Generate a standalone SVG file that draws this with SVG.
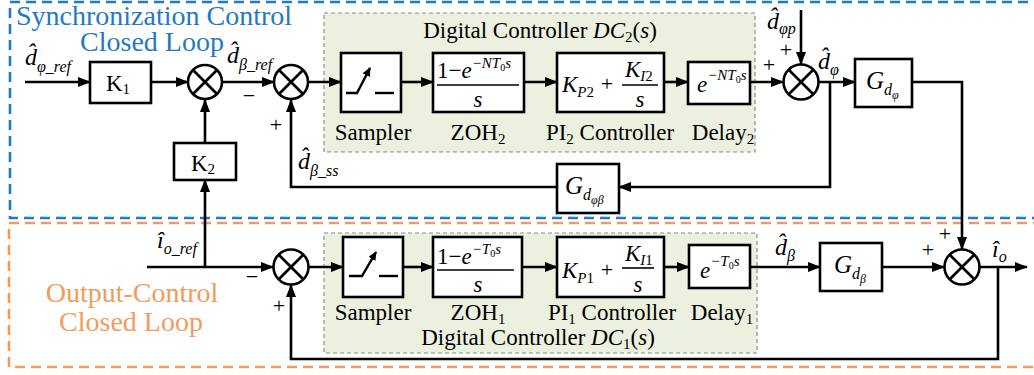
<svg xmlns="http://www.w3.org/2000/svg" width="1034" height="375" viewBox="0 0 1034 375">
<defs>
<marker id="ah" markerWidth="13" markerHeight="10" refX="12" refY="5" orient="auto" markerUnits="userSpaceOnUse"><path d="M0,0 L13,5 L0,10 z" fill="#000"/></marker>
<marker id="ahs" markerWidth="9" markerHeight="8" refX="8" refY="4" orient="auto" markerUnits="userSpaceOnUse"><path d="M0,0 L9,4 L0,8 z" fill="#000"/></marker>
<style>
text{font-family:"Liberation Serif","Times New Roman",serif;fill:#000}
.blk{fill:#fff;stroke:#000;stroke-width:2.6}
.sum circle{fill:#fff;stroke:#000;stroke-width:2.6}
.sum line{stroke:#000;stroke-width:2.6}
.wire{fill:none;stroke:#000;stroke-width:2.6}
.arr{marker-end:url(#ah)}
.dc{fill:#EBF1DE;stroke:#8C8C8C;stroke-width:1.2;stroke-dasharray:4 3}
.lbl{font-size:23px}
.mid{text-anchor:middle}
.it{font-style:italic}
.mi{font-size:24px;font-style:italic}
.sb{font-size:16px;font-style:italic}
.sp{font-size:15px;font-style:italic}
.g{font-size:25px;font-style:italic}
.gs{font-size:16px;font-style:italic}
.gss{font-size:12px;font-style:italic}
.pm{font-size:22px;text-anchor:middle}
.blue{fill:#2479C4;font-size:28px}
.orng{fill:#F29B5B;font-size:28px}
.sym{fill:none;stroke:#000;stroke-width:2.4}
</style>
</defs>

<g id="syncLoop">
<rect x="10" y="2" width="1040" height="216" fill="none" stroke="#2479C4" stroke-width="2.6" stroke-dasharray="10 6"/>
<text x="154" y="25" class="blue mid">Synchronization Control</text>
<text x="152" y="51" class="blue mid">Closed Loop</text>
</g>
<g id="outLoop">
<rect x="9" y="223" width="1040" height="144" fill="none" stroke="#F29B5B" stroke-width="2.6" stroke-dasharray="10 6"/>
<text x="132" y="302" class="orng mid">Output-Control</text>
<text x="131" y="331" class="orng mid">Closed Loop</text>
</g>

<g id="dc2">
<rect x="324" y="13" width="431" height="139" class="dc"/>
<text x="540" y="38" class="lbl mid">Digital Controller <tspan class="it">DC</tspan><tspan font-size="15" dy="4">2</tspan><tspan dy="-4">(</tspan><tspan class="it">s</tspan>)</text>
</g>
<g id="dc1">
<rect x="324" y="233" width="433" height="120" class="dc"/>
<text x="538" y="345" class="lbl mid">Digital Controller <tspan class="it">DC</tspan><tspan font-size="15" dy="4">1</tspan><tspan dy="-4">(</tspan><tspan class="it">s</tspan>)</text>
</g>

<g id="connectors">
<line x1="25" y1="82" x2="90" y2="82" class="wire arr"/>
<line x1="151" y1="82" x2="188" y2="82" class="wire arr"/>
<line x1="222" y1="82" x2="274" y2="82" class="wire arr"/>
<line x1="308" y1="82" x2="341" y2="82" class="wire arr"/>
<line x1="401" y1="82" x2="433" y2="82" class="wire arr"/>
<line x1="524" y1="82" x2="557" y2="82" class="wire arr"/>
<line x1="664" y1="82" x2="688" y2="82" class="wire arr"/>
<line x1="750" y1="82" x2="783" y2="82" class="wire arr"/>
<line x1="801" y1="10" x2="801" y2="64" class="wire arr"/>
<line x1="819" y1="82" x2="855" y2="82" class="wire arr"/>
<polyline points="912,82 962,82 962,249" class="wire arr"/>
<polyline points="830,82 830,187 619,187" class="wire arr"/>
<polyline points="557,187 291,187 291,100" class="wire arr"/>
<line x1="205" y1="143" x2="205" y2="100" class="wire arr"/>
<line x1="147" y1="267" x2="273" y2="267" class="wire arr"/>
<line x1="205" y1="267" x2="205" y2="180" class="wire arr"/>
<line x1="309" y1="267" x2="343" y2="267" class="wire arr"/>
<line x1="403" y1="267" x2="433" y2="267" class="wire arr"/>
<line x1="522" y1="267" x2="557" y2="267" class="wire arr"/>
<line x1="664" y1="267" x2="689" y2="267" class="wire arr"/>
<line x1="750" y1="267" x2="820" y2="267" class="wire arr"/>
<line x1="882" y1="267" x2="944" y2="267" class="wire arr"/>
<line x1="980" y1="267" x2="1027" y2="267" class="wire arr"/>
<polyline points="998,267 998,359 291,359 291,285" class="wire arr"/>
</g>

<g id="K1">
<rect x="90" y="62" width="61" height="41" class="blk"/>
<text x="118" y="91" class="lbl mid">K<tspan font-size="15" dy="3">1</tspan></text>
</g>
<g id="K2">
<rect x="174" y="143" width="62" height="37" class="blk"/>
<text x="203" y="171" class="lbl mid">K<tspan font-size="15" dy="3">2</tspan></text>
</g>

<g id="sum1" class="sum" transform="translate(205,82)"><circle r="17"/><line x1="-12" y1="-12" x2="12" y2="12"/><line x1="-12" y1="12" x2="12" y2="-12"/></g>
<g id="sum2" class="sum" transform="translate(291,82)"><circle r="17"/><line x1="-12" y1="-12" x2="12" y2="12"/><line x1="-12" y1="12" x2="12" y2="-12"/></g>
<g id="sum3" class="sum" transform="translate(801,82)"><circle r="17.5"/><line x1="-12" y1="-12" x2="12" y2="12"/><line x1="-12" y1="12" x2="12" y2="-12"/></g>
<g id="sum4" class="sum" transform="translate(962,267)"><circle r="17.5"/><line x1="-12" y1="-12" x2="12" y2="12"/><line x1="-12" y1="12" x2="12" y2="-12"/></g>
<g id="sum5" class="sum" transform="translate(291,267)"><circle r="17.5"/><line x1="-12" y1="-12" x2="12" y2="12"/><line x1="-12" y1="12" x2="12" y2="-12"/></g>

<g id="sampler2">
<rect x="341" y="53" width="60" height="59" class="blk"/>
<polyline points="346,93 357,93 370,68" class="sym" marker-end="url(#ahs)"/>
<line x1="375" y1="93" x2="394" y2="93" class="sym"/>
<text x="373" y="140" class="lbl mid">Sampler</text>
</g>
<g id="zoh2">
<rect x="433" y="53" width="91" height="59" class="blk"/>
<text x="437" y="78" class="lbl">1−<tspan class="it">e</tspan><tspan class="sp" dy="-10">−NT<tspan font-size="10" font-style="normal" dy="3">0</tspan><tspan dy="-3">s</tspan></tspan></text>
<line x1="437" y1="85" x2="519" y2="85" stroke="#000" stroke-width="1.6"/>
<text x="478" y="107" class="lbl mid it">s</text>
<text x="478" y="140" class="lbl mid">ZOH<tspan font-size="15" dy="4">2</tspan></text>
</g>
<g id="pi2">
<rect x="557" y="53" width="107" height="59" class="blk"/>
<text x="562" y="92" class="lbl"><tspan class="it">K</tspan><tspan font-size="15" dy="5"><tspan class="it">P</tspan>2</tspan></text>
<text x="607" y="91" class="pm">+</text>
<text x="625" y="77" class="lbl"><tspan class="it">K</tspan><tspan font-size="15" dy="4"><tspan class="it">I</tspan>2</tspan></text>
<line x1="622" y1="85" x2="658" y2="85" stroke="#000" stroke-width="1.6"/>
<text x="640" y="107" class="lbl mid it">s</text>
<text x="610" y="140" class="lbl mid">PI<tspan font-size="15" dy="4">2</tspan><tspan dy="-4"> Controller</tspan></text>
</g>
<g id="delay2">
<rect x="688" y="62" width="62" height="42" class="blk"/>
<text x="697" y="92" class="lbl"><tspan class="it">e</tspan><tspan class="sp" dy="-12">−NT<tspan font-size="10" font-style="normal" dy="3">0</tspan><tspan dy="-3">s</tspan></tspan></text>
<text x="723" y="140" class="lbl mid">Delay<tspan font-size="15" dy="4">2</tspan></text>
</g>

<g id="sampler1">
<rect x="343" y="237" width="60" height="60" class="blk"/>
<polyline points="349,276 362,276 376,252" class="sym" marker-end="url(#ahs)"/>
<line x1="379" y1="276" x2="398" y2="276" class="sym"/>
<text x="373" y="320" class="lbl mid">Sampler</text>
</g>
<g id="zoh1">
<rect x="433" y="237" width="89" height="60" class="blk"/>
<text x="437" y="264" class="lbl">1−<tspan class="it">e</tspan><tspan class="sp" dy="-10">−T<tspan font-size="10" font-style="normal" dy="3">0</tspan><tspan dy="-3">s</tspan></tspan></text>
<line x1="437" y1="270" x2="514" y2="270" stroke="#000" stroke-width="1.6"/>
<text x="478" y="292" class="lbl mid it">s</text>
<text x="478" y="320" class="lbl mid">ZOH<tspan font-size="15" dy="4">1</tspan></text>
</g>
<g id="pi1">
<rect x="557" y="237" width="107" height="60" class="blk"/>
<text x="562" y="278" class="lbl"><tspan class="it">K</tspan><tspan font-size="15" dy="5"><tspan class="it">P</tspan>1</tspan></text>
<text x="607" y="277" class="pm">+</text>
<text x="625" y="261" class="lbl"><tspan class="it">K</tspan><tspan font-size="15" dy="4"><tspan class="it">I</tspan>1</tspan></text>
<line x1="622" y1="268" x2="654" y2="268" stroke="#000" stroke-width="1.6"/>
<text x="638" y="292" class="lbl mid it">s</text>
<text x="612" y="320" class="lbl mid">PI<tspan font-size="15" dy="4">1</tspan><tspan dy="-4"> Controller</tspan></text>
</g>
<g id="delay1">
<rect x="689" y="245" width="61" height="43" class="blk"/>
<text x="700" y="278" class="lbl"><tspan class="it">e</tspan><tspan class="sp" dy="-12">−T<tspan font-size="10" font-style="normal" dy="3">0</tspan><tspan dy="-3">s</tspan></tspan></text>
<text x="722" y="320" class="lbl mid">Delay<tspan font-size="15" dy="4">1</tspan></text>
</g>

<g id="Gdphi">
<rect x="855" y="59" width="57" height="48" class="blk"/>
<text x="866" y="89" class="g">G<tspan class="gs" dy="6">d</tspan><tspan class="gss" dy="4">φ</tspan></text>
</g>
<g id="Gdphibeta">
<rect x="557" y="164" width="62" height="49" class="blk"/>
<text x="565" y="194" class="g">G<tspan class="gs" dy="6">d</tspan><tspan class="gss" dy="4">φβ</tspan></text>
</g>
<g id="Gdbeta">
<rect x="820" y="243" width="62" height="48" class="blk"/>
<text x="834" y="273" class="g">G<tspan class="gs" dy="6">d</tspan><tspan class="gss" dy="4">β</tspan></text>
</g>

<g id="labels">
<text x="25" y="65" class="mi">d̂<tspan class="sb" dy="7">φ_ref</tspan></text>
<text x="227" y="63" class="mi">d̂<tspan class="sb" dy="7">β_ref</tspan></text>
<text x="298" y="169" class="mi">d̂<tspan class="sb" dy="7">β_ss</tspan></text>
<text x="767" y="29" class="mi">d̂<tspan class="sb" dy="5">φp</tspan></text>
<text x="818" y="69" class="mi">d̂<tspan class="sb" dy="6">φ</tspan></text>
<text x="775" y="255" class="mi">d̂<tspan class="sb" dy="6">β</tspan></text>
<text x="157" y="248" class="mi">î<tspan class="sb" dy="6">o_ref</tspan></text>
<text x="992" y="257" class="mi">î<tspan class="sb" dy="5">o</tspan></text>
<text x="249" y="103" class="pm">−</text>
<text x="276" y="132" class="pm">+</text>
<text x="769" y="72" class="pm">+</text>
<text x="786" y="57" class="pm" font-size="20">+</text>
<text x="252" y="284" class="pm">−</text>
<text x="279" y="313" class="pm">+</text>
<text x="928" y="257" class="pm">+</text>
<text x="945" y="241" class="pm">+</text>
</g>
</svg>
